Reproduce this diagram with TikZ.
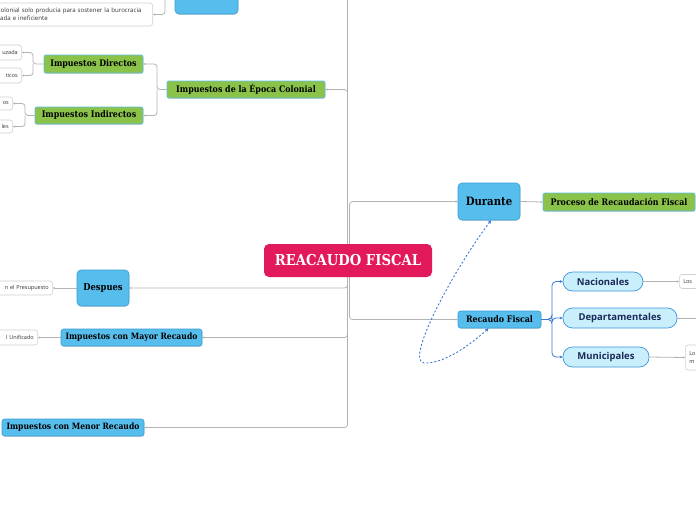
\documentclass[tikz,border=0pt]{standalone}
\usepackage{fontspec}
\setsansfont{Open Sans}
\newfontfamily\slab{DejaVu Serif}[FakeStretch=0.88]
\usetikzlibrary{arrows.meta,shadows}
\definecolor{blueA}{HTML}{56BDEC}
\definecolor{blueB}{HTML}{3A9FD6}
\definecolor{greenA}{HTML}{8BC34A}
\definecolor{greenB}{HTML}{5DBDE8}
\definecolor{crim}{HTML}{E2195A}
\definecolor{pillfill}{HTML}{C9EEFC}
\definecolor{pillB}{HTML}{3C96DB}
\definecolor{navy}{HTML}{1B2A56}
\definecolor{linegray}{HTML}{B3B3B3}
\definecolor{leafB}{HTML}{D0D0D0}
\definecolor{leaftext}{HTML}{333333}
\definecolor{bconn}{HTML}{3A78D4}
\pgfdeclarelayer{bg}
\pgfsetlayers{bg,main}
\tikzset{
  shad/.style={drop shadow={opacity=0.25,shadow xshift=0.4pt,shadow yshift=-0.8pt,fill=black!60}},
  bluebox/.style={draw=blueB,fill=blueA,line width=0.6pt,rounded corners=4pt,inner sep=0pt,font=\slab\bfseries,text=black,shad},
  greenbox/.style={draw=greenB,fill=greenA,line width=0.7pt,rounded corners=2pt,inner sep=0pt,font=\slab\bfseries\fontsize{9}{10}\selectfont,text=black,shad},
  centerbox/.style={fill=crim,rounded corners=5pt,inner sep=0pt,font=\slab\bfseries\fontsize{15}{16}\selectfont,text=white},
  pill/.style={draw=pillB,fill=pillfill,line width=0.7pt,rounded corners=9.5pt,inner sep=0pt,font=\sffamily\bfseries\fontsize{9.5}{10}\selectfont,text=navy},
  leaf/.style={draw=leafB,fill=white,line width=0.6pt,rounded corners=3pt,inner xsep=4pt,inner ysep=0pt,font=\sffamily\fontsize{5.5}{6}\selectfont,text=leaftext},
  conn/.style={draw=linegray,line width=0.8pt,rounded corners=3pt,-{Stealth[length=2.2pt,width=2.2pt]}},
  bline/.style={draw=bconn,line width=0.8pt,rounded corners=4pt,-{Stealth[length=3pt,width=3pt]}},
  dashc/.style={draw=bconn,line width=0.9pt,dash pattern=on 2pt off 2pt,{Stealth[length=3.5pt,width=3.5pt]}-{Stealth[length=3.5pt,width=3.5pt]}}
}
\begin{document}
\begin{tikzpicture}[x=1pt,y=-1pt]
\useasboundingbox (0,0) rectangle (696,520);

% central
\node[centerbox,minimum width=168,minimum height=33] (center) at (348,260.5) {REACAUDO FISCAL};
\coordinate (tl) at (347.5,260.5);
\coordinate (tr) at (349.5,260.5);

% top
\node[bluebox,minimum width=63,minimum height=44] (topbox) at (206.5,-8) {};
\node[leaf,anchor=east,text width=152pt,align=left,minimum height=23,inner xsep=3pt,font=\sffamily\fontsize{6.1}{8}\selectfont] (econ) at (153,14.5) {colonial solo producia para sostener la burocracia\\\hspace*{2.5pt}ada e ineficiente};
\coordinate (jt) at (165,-8);

% colonial
\node[greenbox,minimum width=158,minimum height=17] (colonial) at (246,89.5) {Impuestos de la Época Colonial};
\node[greenbox,minimum width=99,minimum height=18] (directos) at (93.5,64) {Impuestos Directos};
\node[greenbox,minimum width=108,minimum height=17] (indirectos) at (89,115.5) {Impuestos Indirectos};
\coordinate (jc) at (157,89.5);
\coordinate (jd) at (33,64);
\coordinate (ji) at (25,115.5);
\node[leaf,anchor=east,text width=40pt,align=right,minimum height=15] (uzada) at (22,52.5) {uzada};
\node[leaf,anchor=east,text width=40pt,align=right,minimum height=15] (ticos) at (22,75.5) {ticos};
\node[leaf,anchor=east,text width=40pt,align=right,minimum height=13] (os) at (13,103.5) {os};
\node[leaf,anchor=east,text width=40pt,align=right,minimum height=13] (les) at (13,126.5) {les};

% despues etc
\node[bluebox,minimum width=52,minimum height=36,font=\slab\bfseries\fontsize{9.5}{10}\selectfont] (despues) at (103,288) {Despues};
\node[leaf,anchor=east,text width=60pt,align=right,minimum height=14] (presu) at (53,288) {n el Presupuesto};
\node[bluebox,minimum width=141,minimum height=17,rounded corners=2.5pt,font=\slab\bfseries\fontsize{8.7}{10}\selectfont] (mayor) at (131.5,337.5) {Impuestos con Mayor Recaudo};
\node[leaf,anchor=east,text width=50pt,align=right,minimum height=15] (unif) at (38,337.5) {l Unificado};
\node[bluebox,minimum width=142,minimum height=17,rounded corners=2.5pt,font=\slab\bfseries\fontsize{8.7}{10}\selectfont] (menor) at (73,427.5) {Impuestos con Menor Recaudo};

% right side
\node[bluebox,minimum width=62,minimum height=37,font=\slab\bfseries\fontsize{11.5}{12}\selectfont] (durante) at (489,201.5) {Durante};
\node[greenbox,minimum width=152,minimum height=18] (proceso) at (619,202) {Proceso de Recaudación Fiscal};
\node[bluebox,minimum width=83,minimum height=17,rounded corners=2.5pt,font=\slab\bfseries\fontsize{9}{10}\selectfont] (recaudo) at (499.5,319.5) {Recaudo Fiscal};
\coordinate (jr) at (552,319.5);
\node[pill,minimum width=80,minimum height=19] (nac) at (603,281.5) {Nacionales};
\node[pill,minimum width=114,minimum height=20] (dep) at (620,318) {Departamentales};
\node[pill,minimum width=86,minimum height=20] (mun) at (606,357) {Municipales};
\node[leaf,anchor=west,text width=30pt,align=left,minimum height=14] (los) at (679,281.5) {Los};
\node[leaf,anchor=west,text width=30pt,align=left,minimum height=25,font=\sffamily\fontsize{5.5}{8}\selectfont] (lom) at (685,357.5) {Lo\\m};
\coordinate (depend) at (700,318);
\coordinate (cb) at (424,363);

\begin{pgfonlayer}{bg}
\fill[white] (0,0) rectangle (696,520);
\draw[conn] (tl) |- (topbox.east);
\draw[conn] (tl) |- (colonial.east);
\draw[conn] (tl) |- (despues.east);
\draw[conn] (tl) |- (mayor.east);
\draw[conn] (tl) |- (menor.east);
\draw[conn] (tr) |- (durante.west);
\draw[conn] (tr) |- (recaudo.west);
\draw[conn] (topbox.west) -- (jt) |- (econ.east);
\draw[conn] (colonial.west) -- (jc) |- (directos.east);
\draw[conn] (jc) |- (indirectos.east);
\draw[conn] (directos.west) -- (jd) |- (uzada.east);
\draw[conn] (jd) |- (ticos.east);
\draw[conn] (indirectos.west) -- (ji) |- (os.east);
\draw[conn] (ji) |- (les.east);
\draw[conn] (despues.west) -- (presu.east);
\draw[conn] (mayor.west) -- (unif.east);
\draw[conn] (durante.east) -- (proceso.west);
\draw[bline] (recaudo.east) -- (jr) |- (nac.west);
\draw[bline] (recaudo.east) -- (jr) |- (dep.west);
\draw[bline] (recaudo.east) -- (jr) |- (mun.west);
\draw[conn] (nac.east) -- (los.west);
\draw[conn,-] (dep.east) -- (depend);
\draw[conn] (mun.east) -- (lom.west);
\end{pgfonlayer}
\draw[dashc] ([xshift=2pt]durante.south) .. controls (450,275) and (405,362) .. (cb) .. controls (444,364) and (470,345) .. ([xshift=-11pt]recaudo.south);
\end{tikzpicture}
\end{document}
